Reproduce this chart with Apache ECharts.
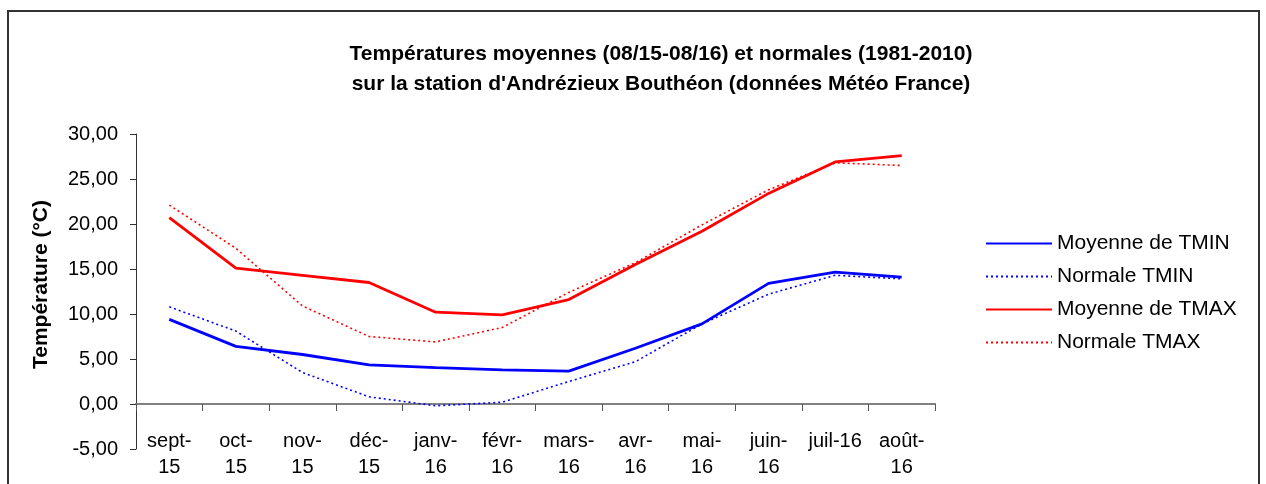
<!DOCTYPE html>
<html>
<head>
<meta charset="utf-8">
<script src="https://cdn.jsdelivr.net/npm/echarts@6/dist/echarts.min.js"></script>
<style>
  html, body { margin: 0; padding: 0; background: #fff; }
  #main { width: 1266px; height: 484px; }
</style>
</head>
<body>
<div id="main"></div>
<script>
// mois (libellés sur deux lignes comme dans le tableur)
const months = ['sept-\n15', 'oct-\n15', 'nov-\n15', 'déc-\n15', 'janv-\n16', 'févr-\n16',
  'mars-\n16', 'avr-\n16', 'mai-\n16', 'juin-\n16', 'juil-16', 'août-\n16'];

// températures (°C)
const moyTmin = [9.4, 6.4, 5.5, 4.35, 4.05, 3.8, 3.65, 6.2, 8.9, 13.4, 14.65, 14.1];
const normTmin = [10.8, 8.1, 3.5, 0.8, -0.2, 0.2, 2.5, 4.7, 8.9, 12.2, 14.3, 13.9];
const moyTmax = [20.7, 15.1, 14.3, 13.5, 10.2, 9.9, 11.6, 15.5, 19.2, 23.4, 26.9, 27.6];
const normTmax = [22.1, 17.3, 10.9, 7.5, 6.9, 8.5, 12.4, 15.7, 19.9, 23.8, 26.8, 26.5];

const yTicks = { min: -5, max: 30, step: 5 };

const font = "'Liberation Sans', Arial, sans-serif";
const myChart = echarts.init(document.getElementById('main'));

function line(name, data, color, dotted) {
  return {
    name: name,
    type: 'line',
    data: data,
    symbol: 'none',
    animation: false,
    lineStyle: dotted
      ? { color: color, width: 1.6, type: [2, 3] }
      : { color: color, width: 2.8 },
    itemStyle: { color: color }
  };
}

const option = {
  backgroundColor: '#fff',
  animation: false,
  textStyle: { fontFamily: font },
  graphic: [{
    type: 'rect',
    shape: { x: 8, y: 11, width: 1251, height: 520 },
    style: { fill: null, stroke: '#333', lineWidth: 2 }
  }],
  title: {
    text: 'Températures moyennes (08/15-08/16) et normales (1981-2010)\nsur la station d\'Andrézieux Bouthéon (données Météo France)',
    left: 661,
    textAlign: 'center',
    top: 39,
    padding: 0,
    textStyle: { fontFamily: font, fontSize: 21, fontWeight: 'bold', color: '#000', lineHeight: 30 }
  },
  legend: {
    orient: 'vertical',
    left: 985,
    top: 233,
    padding: 0,
    itemWidth: 66,
    itemHeight: 21,
    itemGap: 12,
    // pas de pastille : seulement le trait
    itemStyle: { color: 'rgba(0,0,0,0)', borderColor: 'rgba(0,0,0,0)', borderWidth: 0 },
    textStyle: { fontFamily: font, fontSize: 21, color: '#000' },
    data: ['Moyenne de TMIN', 'Normale TMIN', 'Moyenne de TMAX', 'Normale TMAX']
  },
  grid: { left: 136, right: 331, top: 134, bottom: 35, outerBoundsMode: 'none' },
  xAxis: {
    type: 'category',
    data: months,
    boundaryGap: true,
    axisLine: { onZero: true, lineStyle: { color: '#808080', width: 2 } },
    axisTick: { show: true, length: 7, lineStyle: { color: '#555' } },
    axisLabel: {
      margin: -21,
      interval: 0,
      fontFamily: font,
      fontSize: 20,
      lineHeight: 26,
      color: '#000'
    }
  },
  yAxis: {
    type: 'value',
    min: yTicks.min,
    max: yTicks.max,
    interval: yTicks.step,
    name: 'Température (°C)',
    nameLocation: 'middle',
    nameGap: 84,
    nameTextStyle: { fontFamily: font, fontSize: 21, fontWeight: 'bold', color: '#000', padding: [0, 0, 0, 14] },
    axisLine: { show: true, lineStyle: { color: '#333', width: 1 } },
    axisTick: { show: true, length: 6, lineStyle: { color: '#333' } },
    splitLine: { show: false },
    axisLabel: {
      margin: 18,
      fontFamily: font,
      fontSize: 20,
      color: '#000',
      formatter: function (v) { return v.toFixed(2).replace('.', ','); }
    }
  },
  series: [
    line('Moyenne de TMIN', moyTmin, '#0000ff', false),
    line('Normale TMIN', normTmin, '#0000ff', true),
    line('Moyenne de TMAX', moyTmax, '#ff0000', false),
    line('Normale TMAX', normTmax, '#ff0000', true)
  ]
};

myChart.setOption(option);
</script>
</body>
</html>
